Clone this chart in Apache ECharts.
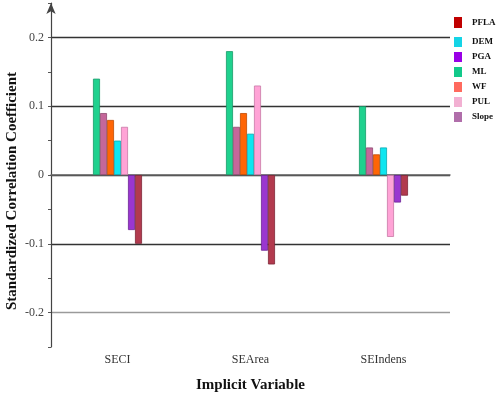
<!DOCTYPE html>
<html>
<head>
<meta charset="utf-8">
<script src="https://cdn.jsdelivr.net/npm/echarts@6/dist/echarts.min.js"></script>
<style>
html,body{margin:0;padding:0;background:#fff;}
#main{width:498px;height:394px;}
</style>
</head>
<body>
<div id="main"></div>
<script>
var categories=['SECI','SEArea','SEIndens']
// bar order inside each group
var seriesNames=['ML','Slope','WF','DEM','PUL','PGA','PFLA']
var ML=[0.14,0.18,0.10]
var Slope=[0.09,0.07,0.04]
var WF=[0.08,0.09,0.03]
var DEM=[0.05,0.06,0.04]
var PUL=[0.07,0.13,-0.09]
var PGA=[-0.08,-0.11,-0.04]
var PFLA=[-0.10,-0.13,-0.03]
var legendOrder=['PFLA','DEM','PGA','ML','WF','PUL','Slope']

var values={ML:ML,Slope:Slope,WF:WF,DEM:DEM,PUL:PUL,PGA:PGA,PFLA:PFLA}
var colors={ML:'#1fd18e',Slope:'#c4679a',WF:'#ff6505',DEM:'#0ee6f0',PUL:'#ffa3d6',PGA:'#9a36d0',PFLA:'#b23a4e'}
var borders={ML:'#169a68',Slope:'#8e4a70',WF:'#c04a00',DEM:'#09a8b0',PUL:'#c879a6',PGA:'#6d2496',PFLA:'#7e2636'}
var legendColors={PFLA:'#c00000',DEM:'#14d4e6',PGA:'#9900e6',ML:'#12c98a',WF:'#ff6a5e',PUL:'#f2b0d2',Slope:'#b06eaa'}

var serif='"Liberation Serif","DejaVu Serif",serif'

var series=[]
for(var i=0;i<seriesNames.length;i++){
	var n=seriesNames[i]
	series.push({
		name:n,
		type:'bar',
		data:values[n],
		barWidth:7,
		barGap:'0%',
		itemStyle:{color:colors[n],borderColor:borders[n],borderWidth:0.8}
	})
}

function legendItems(names){
	var out=[]
	for(var j=0;j<names.length;j++){
		out.push({name:names[j],itemStyle:{color:legendColors[names[j]],borderWidth:0}})
	}
	return out
}
var legendText={fontFamily:serif,fontWeight:'bold',fontSize:9,color:'#111',padding:[0,0,0,5]}

var mychart=echarts.init(document.getElementById('main'))
var option={
	animation:false,
	grid:{left:51,right:48,top:3,bottom:47,outerBoundsMode:'none',containLabel:false},
	legend:[{
		orient:'vertical',
		left:454,
		top:17,
		padding:0,
		itemWidth:8,
		itemHeight:11,
		icon:'rect',
		data:legendItems(legendOrder.slice(0,1)),
		textStyle:legendText
	},{
		orient:'vertical',
		left:454,
		top:37,
		padding:0,
		itemWidth:8,
		itemHeight:10,
		itemGap:5,
		icon:'rect',
		data:legendItems(legendOrder.slice(1)),
		textStyle:legendText
	}],
	xAxis:{
		type:'category',
		data:categories,
		name:'Implicit Variable',
		nameLocation:'middle',
		nameGap:31,
		nameTextStyle:{fontFamily:serif,fontWeight:'bold',fontSize:15,color:'#111'},
		axisLine:{lineStyle:{color:'#666',width:1.5}},
		axisTick:{alignWithLabel:true,length:4,lineStyle:{color:'#666'}},
		axisLabel:{fontFamily:serif,fontSize:12,color:'#333',margin:7}
	},
	yAxis:{
		type:'value',
		min:-0.25,
		max:0.25,
		interval:0.05,
		name:'Standardized Correlation Coefficient',
		nameLocation:'middle',
		nameRotate:90,
		nameGap:31,
		nameMoveOverlap:false,
		nameTextStyle:{fontFamily:serif,fontWeight:'bold',fontSize:15,color:'#111',padding:[0,32,0,0]},
		axisLine:{show:true,symbol:['none','arrow'],symbolSize:[7,11],symbolOffset:[0,0],lineStyle:{color:'#444',width:1.2}},
		axisTick:{show:true,length:3,lineStyle:{color:'#555'}},
		axisLabel:{
			fontFamily:serif,fontSize:12,color:'#444',margin:7,
			formatter:function(v){
				var k=Math.round(v*100)
				if(k%10!==0) return ''
				if(k===0) return '0'
				if(Math.abs(k)>20) return ''
				return (k/100).toString()
			}
		},
		splitLine:{
			show:true,
			showMinLine:false,
			showMaxLine:false,
			lineStyle:{color:['#9a9a9a','transparent','#333','transparent','#333','transparent','#333','transparent','#333'],width:1.3}
		}
	},
	series:series
}
mychart.setOption(option)
</script>
</body>
</html>
